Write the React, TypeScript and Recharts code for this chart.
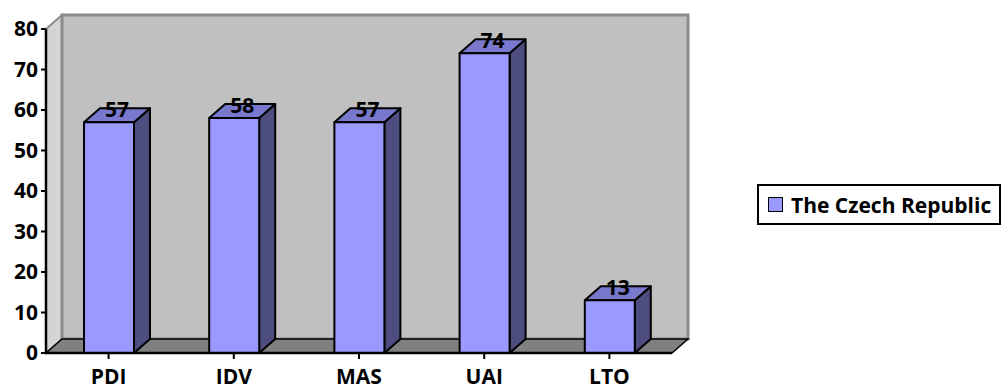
import React from "react";
import {
  BarChart,
  Bar,
  XAxis,
  YAxis,
  Legend,
  LabelList,
  ReferenceArea,
} from "recharts";

const dimensions = ["PDI", "IDV", "MAS", "UAI", "LTO"];
const czechScores = [57, 58, 57, 74, 13];
const yTicks = [0, 10, 20, 30, 40, 50, 60, 70, 80];
const seriesName = "The Czech Republic";

const data = dimensions.map((d, i) => ({ dim: d, score: czechScores[i] }));

// depth of the fake 3d projection
const DX = 16;
const DY = 14;

const FONT = "'Open Sans', 'DejaVu Sans', sans-serif";

const FRONT = "#9999ff";
const TOP = "#7878cc";
const SIDE = "#4d4d80";

function Box3D(props: any) {
  const { x, y, width: w, height: h } = props;
  if (w == null || h == null) return null;
  return (
    <g stroke="#000" strokeWidth={2} strokeLinejoin="round">
      <polygon
        points={`${x + w},${y} ${x + w + DX},${y - DY} ${x + w + DX},${y + h - DY} ${x + w},${y + h}`}
        fill={SIDE}
      />
      <polygon
        points={`${x},${y} ${x + DX},${y - DY} ${x + w + DX},${y - DY} ${x + w},${y}`}
        fill={TOP}
      />
      <rect x={x} y={y} width={w} height={h} fill={FRONT} />
    </g>
  );
}

function Walls(props: any) {
  const { x, y, width: w, height: h } = props;
  if (w == null || h == null) return null;
  const b = y + h;
  return (
    <g>
      <polygon
        points={`${x},${y} ${x + DX},${y - DY} ${x + DX},${b - DY} ${x},${b}`}
        fill="#d4d4d4"
        stroke="#8c8c8c"
        strokeWidth={2}
      />
      <rect
        x={x + DX}
        y={y - DY}
        width={w}
        height={h}
        fill="#c0c0c0"
        stroke="#8c8c8c"
        strokeWidth={3}
      />
      <polygon
        points={`${x},${b} ${x + DX},${b - DY} ${x + w + DX},${b - DY} ${x + w},${b}`}
        fill="#808080"
        stroke="#000"
        strokeWidth={1.5}
      />
    </g>
  );
}

function ValueLabel(props: any) {
  const { x, y, width, value } = props;
  return (
    <text
      x={x + width / 2 + DX / 2}
      y={y - 13}
      textAnchor="middle"
      dominantBaseline="central"
      fontFamily={FONT}
      fontWeight={700}
      fontSize={21}
      fill="#000"
    >
      {value}
    </text>
  );
}

function LegendBox() {
  return (
    <div
      style={{
        border: "2px solid #000",
        background: "#fff",
        height: 41,
        width: 244,
        boxSizing: "border-box",
        display: "flex",
        alignItems: "center",
        paddingLeft: 9,
        fontFamily: FONT,
        fontWeight: 700,
        fontSize: 21,
        color: "#000",
        whiteSpace: "nowrap",
      }}
    >
      <span
        style={{
          display: "inline-block",
          width: 13,
          height: 13,
          background: FRONT,
          border: "1.5px solid #000",
          marginRight: 8,
        }}
      />
      {seriesName}
    </div>
  );
}

const tickStyle = {
  fontFamily: FONT,
  fontWeight: 700,
  fontSize: 21,
  fill: "#000",
};

export default function App() {
  return (
    <div style={{ position: "absolute", left: 0, top: 0, background: "#fff" }}>
      <BarChart
        width={1003}
        height={392}
        data={data}
        margin={{ top: 29, right: 331, bottom: 0, left: 0 }}
        barSize={50}
      >
        <ReferenceArea
          y1={0}
          y2={80}
          ifOverflow="visible"
          shape={<Walls />}
        />
        <XAxis
          dataKey="dim"
          height={39}
          tick={tickStyle}
          tickMargin={10}
          tickSize={6}
          axisLine={{ stroke: "#000", strokeWidth: 2.5 }}
          tickLine={{ stroke: "#000", strokeWidth: 2 }}
        />
        <YAxis
          domain={[0, 80]}
          ticks={yTicks}
          width={46}
          tick={tickStyle}
          tickSize={5}
          tickMargin={3}
          axisLine={{ stroke: "#000", strokeWidth: 2.5 }}
          tickLine={{ stroke: "#000", strokeWidth: 2 }}
        />
        <Legend
          layout="horizontal"
          verticalAlign="middle"
          align="center"
          wrapperStyle={{ left: 757, top: 184, width: 244 }}
          content={() => <LegendBox />}
        />
        <Bar
          dataKey="score"
          name={seriesName}
          shape={<Box3D />}
          isAnimationActive={false}
        >
          <LabelList dataKey="score" content={<ValueLabel />} />
        </Bar>
      </BarChart>
    </div>
  );
}
